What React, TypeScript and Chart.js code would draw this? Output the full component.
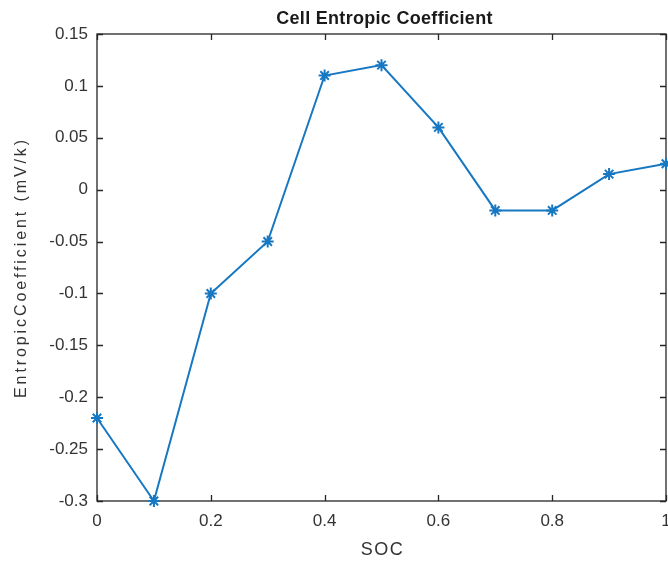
import { useEffect, useRef } from 'react';
import { Chart, registerables } from 'chart.js';

Chart.register(...registerables);

// State of charge samples and the measured entropic coefficient (mV/K)
const socLevels = [0, 0.1, 0.2, 0.3, 0.4, 0.5, 0.6, 0.7, 0.8, 0.9, 1.0];
const entropicCoeff = [-0.22, -0.3, -0.1, -0.05, 0.11, 0.12, 0.06, -0.02, -0.02, 0.015, 0.025];

const xTickValues = [0, 0.2, 0.4, 0.6, 0.8, 1];
const yTickValues = [0.15, 0.1, 0.05, 0, -0.05, -0.1, -0.15, -0.2, -0.25, -0.3];

const chartTitle = 'Cell Entropic Coefficient';
const xAxisTitle = 'SOC';
const yAxisTitle = 'EntropicCoefficient (mV/k)';

const FONT = '"Liberation Sans", Arial, Helvetica, sans-serif';
const AXIS_COLOR = '#262626';
const TEXT_COLOR = '#333333';
const LINE_COLOR = '#1677c2';

// Box around the plot area with inward tick marks on all four sides,
// plus the title and axis labels.
const boxAxesPlugin = {
  id: 'boxAxes',
  beforeDatasetsDraw(chart: any) {
    const { ctx, chartArea, scales } = chart;
    const { left, right, top, bottom } = chartArea;
    const tick = 6;
    ctx.save();
    ctx.strokeStyle = AXIS_COLOR;
    ctx.lineWidth = 1.3;
    ctx.strokeRect(left, top, right - left, bottom - top);
    ctx.beginPath();
    xTickValues.forEach((v) => {
      const x = Math.round(scales.x.getPixelForValue(v)) + 0.5;
      ctx.moveTo(x, bottom);
      ctx.lineTo(x, bottom - tick);
      ctx.moveTo(x, top);
      ctx.lineTo(x, top + tick);
    });
    yTickValues.forEach((v) => {
      const y = Math.round(scales.y.getPixelForValue(v)) + 0.5;
      ctx.moveTo(left, y);
      ctx.lineTo(left + tick, y);
      ctx.moveTo(right, y);
      ctx.lineTo(right - tick, y);
    });
    ctx.stroke();
    ctx.restore();
  },
  afterDraw(chart: any) {
    const { ctx, chartArea } = chart;
    const cx = (chartArea.left + chartArea.right) / 2;
    const cy = (chartArea.top + chartArea.bottom) / 2;
    ctx.save();
    ctx.textAlign = 'center';
    ctx.textBaseline = 'middle';

    ctx.fillStyle = '#1a1a1a';
    ctx.font = `bold 18px ${FONT}`;
    (ctx as any).letterSpacing = '0.3px';
    ctx.fillText(chartTitle, cx + 3, 19);

    ctx.fillStyle = TEXT_COLOR;
    ctx.font = `18px ${FONT}`;
    (ctx as any).letterSpacing = '1.5px';
    ctx.fillText(xAxisTitle, cx + 1, 550);

    ctx.translate(22, cy);
    ctx.rotate(-Math.PI / 2);
    ctx.font = `16px ${FONT}`;
    (ctx as any).letterSpacing = '2.9px';
    ctx.fillText(yAxisTitle, 0, 0);
    ctx.restore();
  },
};

export default function App() {
  const canvasRef = useRef<HTMLCanvasElement | null>(null);

  useEffect(() => {
    const canvas = canvasRef.current;
    if (!canvas) return;
    const chart = new Chart(canvas, {
      type: 'line',
      data: {
        datasets: [
          {
            data: socLevels.map((x, i) => ({ x, y: entropicCoeff[i] })),
            borderColor: LINE_COLOR,
            backgroundColor: LINE_COLOR,
            borderWidth: 2,
            pointStyle: 'star',
            pointRadius: 6,
            pointBorderWidth: 2,
            pointBorderColor: LINE_COLOR,
            tension: 0,
            fill: false,
            clip: false as any,
          },
        ],
      },
      options: {
        animation: false,
        responsive: false,
        devicePixelRatio: 1,
        layout: { autoPadding: false, padding: { top: 34, right: 2, left: 0, bottom: 0 } },
        plugins: {
          legend: { display: false },
          title: { display: false },
          tooltip: { enabled: false },
        },
        scales: {
          x: {
            type: 'linear',
            min: 0,
            max: 1,
            grid: { display: false, drawTicks: false },
            border: { display: false },
            afterBuildTicks: (s: any) => {
              s.ticks = xTickValues.map((value) => ({ value }));
            },
            afterFit: (s: any) => {
              s.height = 64;
              s.paddingLeft = 0;
              s.paddingRight = 0;
            },
            ticks: {
              padding: 10,
              maxRotation: 0,
              autoSkip: false,
              color: TEXT_COLOR,
              font: { family: FONT, size: 17 },
              callback: (v: any) => String(Number(v)),
            },
          },
          y: {
            type: 'linear',
            min: -0.3,
            max: 0.15,
            grid: { display: false, drawTicks: false },
            border: { display: false },
            afterBuildTicks: (s: any) => {
              s.ticks = yTickValues.map((value) => ({ value }));
            },
            afterFit: (s: any) => {
              s.width = 97;
              s.paddingTop = 0;
              s.paddingBottom = 0;
            },
            ticks: {
              padding: 9,
              autoSkip: false,
              color: TEXT_COLOR,
              font: { family: FONT, size: 17 },
              callback: (v: any) => String(Number(v)),
            },
          },
        },
      },
      plugins: [boxAxesPlugin],
    });
    return () => chart.destroy();
  }, []);

  return (
    <div style={{ position: 'absolute', left: 0, top: 0, width: 668, height: 565, background: '#fff' }}>
      <canvas ref={canvasRef} width={668} height={565} style={{ display: 'block' }} />
    </div>
  );
}
